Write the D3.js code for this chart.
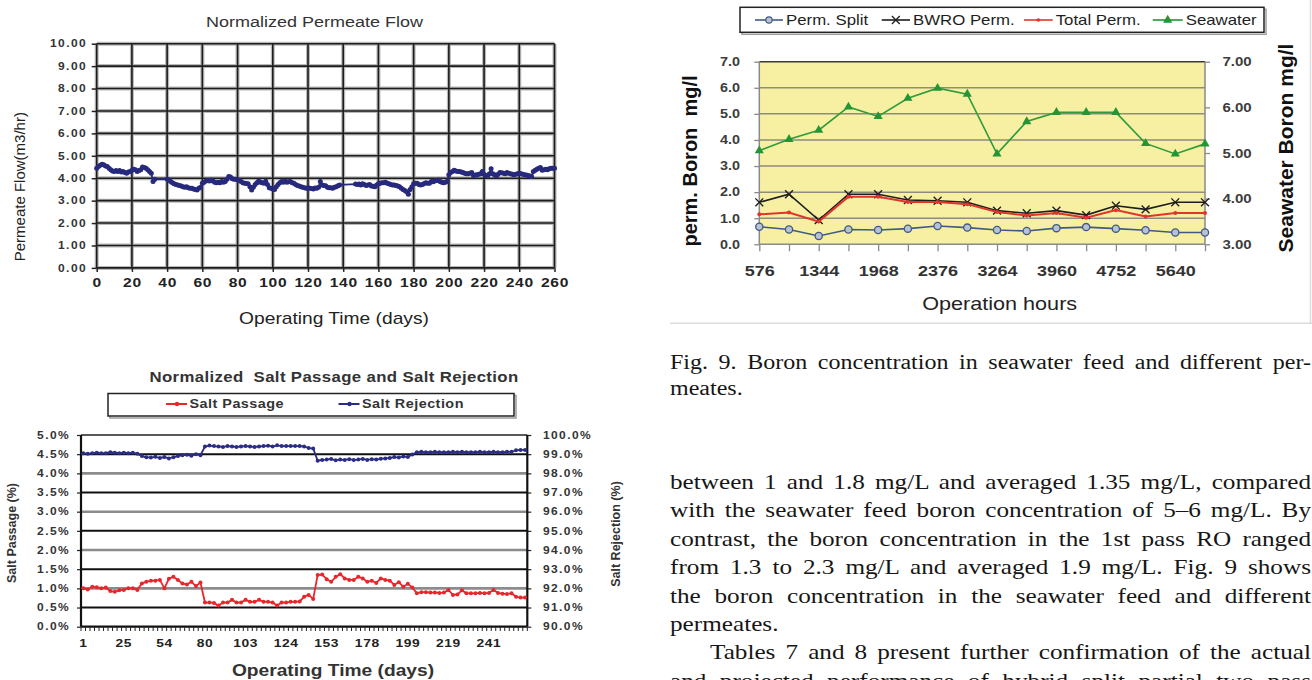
<!DOCTYPE html>
<html>
<head>
<meta charset="utf-8">
<script src="https://cdn.jsdelivr.net/npm/d3@7"></script>
<style>
  html, body { margin: 0; padding: 0; background: #fff; overflow: hidden; }
  #page { position: relative; width: 1312px; height: 680px; overflow: hidden; }
  #page svg { position: absolute; left: 0; top: 0; }
  .txt-line {
    position: absolute; white-space: nowrap; height: 28px; line-height: 28px;
    font-family: "Liberation Serif", "Times New Roman", serif; color: #161616;
    transform-origin: 0 50%;
  }
</style>
</head>
<body>
<div id="page"></div>
<script>
// ---- top-left: normalized permeate flow, [day, m3/hr]
const flowTicksX = [0, 20, 40, 60, 80, 100, 120, 140, 160, 180, 200, 220, 240, 260];
const flowTicksY = [0, 1, 2, 3, 4, 5, 6, 7, 8, 9, 10];
const permeateFlow = [
  [0,4.45],[1,4.52],[2,4.58],[3,4.62],[4,4.6],[5,4.55],[6,4.52],[7,4.45],[8,4.38],[9,4.32],
  [10,4.3],[11,4.34],[12,4.3],[13,4.34],[14,4.28],[15,4.3],[16,4.25],[17,4.22],[18,4.28],[19,4.3],
  [20,4.36],[21,4.4],[22,4.38],[23,4.3],[24,4.34],[25,4.38],[26,4.5],[27,4.48],[28,4.45],[29,4.38],
  [30,4.3],[31,4.22],[32,3.85],[33,3.95],[40,3.96],[41,3.92],[42,3.85],[43,3.8],[44,3.75],[45,3.72],
  [46,3.7],[47,3.68],[48,3.65],[49,3.62],[50,3.6],[51,3.62],[52,3.58],[53,3.55],[54,3.55],[55,3.52],
  [56,3.5],[57,3.48],[58,3.55],[59,3.6],[60,3.78],[61,3.82],[62,3.88],[63,3.9],[64,3.88],[65,3.92],
  [66,3.88],[67,3.82],[68,3.8],[69,3.82],[70,3.8],[71,3.85],[72,3.82],[73,3.85],[74,3.95],[75,4.08],
  [76,4.05],[77,3.98],[78,3.95],[79,3.95],[80,3.93],[81,3.9],[82,3.85],[83,3.8],[84,3.78],[85,3.76],
  [86,3.75],[87,3.62],[88,3.48],[89,3.6],[90,3.72],[91,3.8],[92,3.88],[93,3.82],[94,3.8],[95,3.78],
  [96,3.86],[97,3.72],[98,3.58],[99,3.55],[100,3.52],[101,3.5],[102,3.62],[103,3.72],[104,3.8],[105,3.85],
  [106,3.82],[107,3.88],[108,3.82],[109,3.84],[110,3.85],[111,3.8],[112,3.78],[113,3.72],[114,3.68],[115,3.65],
  [116,3.62],[117,3.6],[118,3.58],[119,3.55],[120,3.57],[121,3.55],[122,3.54],[123,3.52],[124,3.56],[125,3.55],
  [126,3.6],[127,3.85],[128,3.7],[129,3.68],[130,3.66],[131,3.6],[132,3.58],[133,3.57],[134,3.55],[135,3.6],
  [136,3.62],[137,3.66],[138,3.7],[147,3.74],[148,3.72],[149,3.74],[150,3.7],[151,3.75],[152,3.72],[153,3.68],
  [154,3.7],[155,3.72],[156,3.65],[157,3.64],[158,3.62],[159,3.7],[160,3.75],[161,3.78],[162,3.8],[163,3.8],
  [164,3.82],[165,3.78],[166,3.75],[167,3.72],[168,3.7],[169,3.7],[170,3.68],[171,3.65],[172,3.62],[173,3.55],
  [174,3.5],[175,3.45],[176,3.4],[177,3.28],[178,3.5],[179,3.62],[180,3.75],[181,3.78],[182,3.78],[183,3.72],
  [184,3.7],[185,3.72],[186,3.76],[187,3.8],[188,3.78],[189,3.78],[190,3.85],[191,3.84],[192,3.88],[193,3.9],
  [194,3.92],[195,3.85],[196,3.82],[197,3.8],[198,3.82],[199,3.85],[200,4.15],[201,4.25],[202,4.3],[203,4.35],
  [204,4.32],[205,4.3],[206,4.3],[207,4.28],[208,4.25],[209,4.22],[210,4.2],[211,4.2],[212,4.22],[213,4.25],
  [214,4.12],[215,4.14],[216,4.15],[217,4.18],[218,4.2],[219,4.3],[220,4.18],[221,4.12],[222,4.1],[223,4.2],
  [224,4.42],[225,4.2],[226,4.15],[227,4.1],[228,4.18],[229,4.25],[230,4.24],[231,4.22],[232,4.2],[233,4.25],
  [234,4.22],[235,4.2],[236,4.18],[237,4.15],[238,4.18],[239,4.2],[240,4.22],[241,4.2],[242,4.18],[243,4.15],
  [244,4.14],[245,4.12],[246,4.1],[247,4.08],[248,4.3],[249,4.35],[250,4.4],[251,4.45],[252,4.48],[253,4.35],
  [254,4.38],[255,4.4],[256,4.38],[257,4.42],[258,4.44],[259,4.45],[260,4.45]
];

// ---- bottom-left: salt passage / rejection (one value per logged day)
const saltTickLabels = ["1", "25", "54", "80", "103", "124", "153", "178", "199", "219", "241"];
const saltLabelEvery = 9;
const passageTicks = [0, 0.5, 1, 1.5, 2, 2.5, 3, 3.5, 4, 4.5, 5];
const rejectionTicks = [90, 91, 92, 93, 94, 95, 96, 97, 98, 99, 100];
const saltPassage = [
  1.00, 0.97, 1.04, 1.03, 1.00, 1.02, 0.93, 0.91, 0.95, 0.96,
  1.00, 1.00, 0.96, 1.13, 1.17, 1.20, 1.20, 1.22, 1.00, 1.25,
  1.30, 1.22, 1.13, 1.10, 1.17, 1.06, 1.15, 0.63, 0.63, 0.62,
  0.55, 0.63, 0.63, 0.70, 0.63, 0.63, 0.70, 0.65, 0.65, 0.70,
  0.65, 0.65, 0.63, 0.55, 0.63, 0.63, 0.65, 0.65, 0.66, 0.78,
  0.83, 0.72, 1.35, 1.36, 1.24, 1.17, 1.30, 1.37, 1.26, 1.22,
  1.22, 1.30, 1.26, 1.17, 1.20, 1.14, 1.26, 1.22, 1.20, 1.09,
  1.16, 1.04, 1.12, 1.02, 0.87, 0.90, 0.90, 0.89, 0.89, 0.88,
  0.89, 0.96, 0.83, 0.84, 0.95, 0.87, 0.87, 0.87, 0.88, 0.87,
  0.88, 0.96, 0.88, 0.86, 0.85, 0.87, 0.78, 0.76, 0.76
];
const saltRejection = [
  99.05, 99.02, 99.05, 99.08, 99.05, 99.05, 99.10, 99.08, 99.05, 99.08,
  99.05, 99.08, 99.02, 98.90, 98.84, 98.82, 98.86, 98.80, 98.85, 98.78,
  98.84, 98.90, 98.95, 98.97, 98.92, 99.00, 98.95, 99.40, 99.45, 99.42,
  99.40, 99.38, 99.42, 99.40, 99.38, 99.40, 99.42, 99.40, 99.38, 99.40,
  99.42, 99.44, 99.40, 99.46, 99.42, 99.42, 99.42, 99.42, 99.42, 99.40,
  99.32, 99.30, 98.66, 98.70, 98.72, 98.75, 98.68, 98.72, 98.70, 98.74,
  98.70, 98.72, 98.75, 98.70, 98.74, 98.72, 98.76, 98.78, 98.80, 98.85,
  98.82, 98.88, 98.85, 98.98, 99.10, 99.12, 99.10, 99.10, 99.12, 99.10,
  99.10, 99.10, 99.12, 99.10, 99.12, 99.10, 99.10, 99.10, 99.12, 99.10,
  99.10, 99.12, 99.10, 99.10, 99.12, 99.12, 99.20, 99.22, 99.22
];

// ---- top-right: boron (Fig. 9), 16 sampling points, every second labelled
const boronHourLabels = ["576", "1344", "1968", "2376", "3264", "3960", "4752", "5640"];
const boronLeftTicks = [0, 1, 2, 3, 4, 5, 6, 7];
const boronRightTicks = [3, 4, 5, 6, 7];
const permSplit = [0.67, 0.57, 0.32, 0.57, 0.55, 0.60, 0.70, 0.64, 0.55, 0.51, 0.62, 0.66, 0.60, 0.54, 0.45, 0.45];
const bwroPerm  = [1.61, 1.92, 0.93, 1.92, 1.92, 1.70, 1.67, 1.61, 1.29, 1.19, 1.29, 1.12, 1.48, 1.34, 1.61, 1.61];
const totalPerm = [1.15, 1.22, 0.87, 1.82, 1.82, 1.62, 1.62, 1.54, 1.24, 1.10, 1.20, 1.02, 1.31, 1.07, 1.20, 1.20];
const seawater  = [5.05, 5.30, 5.50, 6.01, 5.80, 6.20, 6.42, 6.29, 4.98, 5.69, 5.89, 5.89, 5.89, 5.21, 4.98, 5.20];

// ---- article text
const captionLines = [
  { t: "Fig. 9. Boron concentration in seawater feed and different per-", j: true },
  { t: "meates.", j: false }
];
const bodyLines = [
  { t: "between 1 and 1.8 mg/L and averaged 1.35 mg/L, compared", j: true, indent: 0 },
  { t: "with the seawater feed boron concentration of 5\u20136 mg/L. By", j: true, indent: 0 },
  { t: "contrast, the boron concentration in the 1st pass RO ranged", j: true, indent: 0 },
  { t: "from 1.3 to 2.3 mg/L and averaged 1.9 mg/L. Fig. 9 shows", j: true, indent: 0 },
  { t: "the boron concentration in the seawater feed and different", j: true, indent: 0 },
  { t: "permeates.", j: false, indent: 0 },
  { t: "Tables 7 and 8 present further confirmation of the actual", j: true, indent: 40 },
  { t: "and projected performance of hybrid split partial two pass", j: true, indent: 0 }
];

const SX = 1.2;   // the scanned page is stretched sideways
const page = d3.select("#page");
const svg = page.append("svg").attr("width", 1312).attr("height", 680)
  .style("font-family", "'Liberation Sans', Arial, sans-serif");

function stext(g, x, y, str, rot) {
  return g.append("text")
    .attr("transform", `translate(${x},${y}) scale(${SX},1)` + (rot ? " rotate(-90)" : ""))
    .attr("dy", "0.35em")
    .attr("text-anchor", "middle")
    .text(str);
}
function styleAxis(ax, size, weight, spacing, color) {
  ax.attr("font-family", null).attr("font-size", null);
  ax.select(".domain").remove();
  ax.selectAll("text")
    .attr("transform", `scale(${SX},1)`)
    .attr("fill", color)
    .style("font-size", size + "px")
    .style("font-weight", weight)
    .style("letter-spacing", spacing + "px");
}

// ================= chart 1 : Normalized Permeate Flow =================
{
  const g = svg.append("g");
  const x = d3.scaleLinear().domain([0, 260]).range([96.7, 554.5]);
  const y = d3.scaleLinear().domain([0, 10]).range([267.9, 43.7]);

  // soft grey halo then dark core, like the scanned grid
  [["#b8b8b8", 4], ["#1c1c1c", 1.6]].forEach(([c, w]) => {
    g.append("g").selectAll("line").data(flowTicksX).join("line")
      .attr("x1", d => x(d)).attr("x2", d => x(d))
      .attr("y1", y(10)).attr("y2", y(0))
      .attr("stroke", c).attr("stroke-width", w);
    g.append("g").selectAll("line").data(flowTicksY).join("line")
      .attr("x1", x(0)).attr("x2", x(260))
      .attr("y1", d => y(d)).attr("y2", d => y(d))
      .attr("stroke", c).attr("stroke-width", w);
  });

  const ya = g.append("g").attr("transform", `translate(${x(0)},0)`)
    .call(d3.axisLeft(y).tickValues(flowTicksY).tickFormat(d3.format(".2f")).tickSize(5).tickPadding(3));
  styleAxis(ya, 10, "bold", 1.2, "#333");
  ya.selectAll("line").attr("stroke", "#222").attr("stroke-width", 1.5);

  const xa = g.append("g").attr("transform", `translate(0,${y(0)})`)
    .call(d3.axisBottom(x).tickValues(flowTicksX).tickFormat(d3.format("d")).tickSize(4).tickPadding(6));
  styleAxis(xa, 13, "bold", 0.6, "#222");
  xa.selectAll("line").attr("stroke", "#222").attr("stroke-width", 1.5);

  const line = d3.line().x(d => x(d[0])).y(d => y(d[1]));
  g.append("path").attr("d", line(permeateFlow))
    .attr("fill", "none").attr("stroke", "#27297d").attr("stroke-width", 1.8);
  g.append("g").selectAll("circle").data(permeateFlow).join("circle")
    .attr("cx", d => x(d[0])).attr("cy", d => y(d[1])).attr("r", 2.5)
    .attr("fill", "#27297d");

  stext(g, 314.5, 21.7, "Normalized Permeate Flow")
    .style("font-size", "15px").attr("fill", "#333");
  stext(g, 334, 318.3, "Operating Time (days)")
    .style("font-size", "16px").attr("fill", "#222");
  g.append("text")
    .attr("transform", "translate(19.5,186.7) rotate(-90)")
    .attr("dy", "0.35em").attr("text-anchor", "middle")
    .style("font-size", "15px").attr("fill", "#222")
    .text("Permeate Flow(m3/hr)");
}

// ============ chart 2 : Normalized Salt Passage and Salt Rejection ============
{
  const g = svg.append("g");
  const idx = d3.range(saltPassage.length);
  const x = d3.scaleBand().domain(idx).range([81, 527.3]);
  const yL = d3.scaleLinear().domain([0, 5]).range([626.7, 435]);
  const yR = d3.scaleLinear().domain([90, 100]).range([626.7, 435]);
  const cx = i => x(i) + x.bandwidth() / 2;

  // alternating black / grey horizontal grid
  g.append("g").selectAll("line").data(passageTicks.slice(1, -1)).join("line")
    .attr("x1", 81).attr("x2", 527.3)
    .attr("y1", d => yL(d)).attr("y2", d => yL(d))
    .attr("stroke", d => Math.round(d * 2) % 2 === 1 ? "#111" : "#8c8c8c")
    .attr("stroke-width", d => Math.round(d * 2) % 2 === 1 ? 2 : 2.6);
  g.append("line").attr("x1", 81).attr("x2", 527.3).attr("y1", yL(5)).attr("y2", yL(5))
    .attr("stroke", "#222").attr("stroke-width", 1.5);

  const la = g.append("g").attr("transform", "translate(81,0)")
    .call(d3.axisLeft(yL).tickValues(passageTicks).tickFormat(d => d3.format(".1f")(d) + "%").tickSize(4).tickPadding(5));
  styleAxis(la, 10, "bold", 1.2, "#333");
  la.selectAll("line").attr("stroke", "#222").attr("stroke-width", 1.2);

  const ra = g.append("g").attr("transform", "translate(527.3,0)")
    .call(d3.axisRight(yR).tickValues(rejectionTicks).tickFormat(d => d3.format(".1f")(d) + "%").tickSize(4).tickPadding(9));
  styleAxis(ra, 10, "bold", 1.2, "#333");
  ra.selectAll("line").attr("stroke", "#222").attr("stroke-width", 1.2);

  // axis lines
  g.append("line").attr("x1", 81).attr("x2", 81).attr("y1", 435).attr("y2", 626.7)
    .attr("stroke", "#111").attr("stroke-width", 2.2);
  g.append("line").attr("x1", 527.3).attr("x2", 527.3).attr("y1", 435).attr("y2", 626.7)
    .attr("stroke", "#111").attr("stroke-width", 2.2);
  g.append("line").attr("x1", 81).attr("x2", 527.3).attr("y1", 626.7).attr("y2", 626.7)
    .attr("stroke", "#111").attr("stroke-width", 2.2);
  // dense category tick marks
  g.append("g").selectAll("line").data(d3.range(saltPassage.length + 1)).join("line")
    .attr("x1", i => 81 + i * x.step()).attr("x2", i => 81 + i * x.step())
    .attr("y1", 626.7).attr("y2", 631)
    .attr("stroke", "#222").attr("stroke-width", 1);

  g.append("g").selectAll("text").data(saltTickLabels).join("text")
    .attr("transform", (d, i) => `translate(${cx(i * saltLabelEvery)},642.7) scale(${SX},1)`)
    .attr("dy", "0.35em").attr("text-anchor", "middle")
    .style("font-size", "11.5px").style("font-weight", "bold").style("letter-spacing", "0.5px")
    .attr("fill", "#222").text(d => d);

  const series = [
    { vals: saltRejection, y: yR, color: "#2b2d85" },
    { vals: saltPassage, y: yL, color: "#e8262b" }
  ];
  series.forEach(s => {
    g.append("path")
      .attr("d", d3.line().x((d, i) => cx(i)).y(d => s.y(d))(s.vals))
      .attr("fill", "none").attr("stroke", s.color).attr("stroke-width", 1.8);
    g.append("g").selectAll("circle").data(s.vals).join("circle")
      .attr("cx", (d, i) => cx(i)).attr("cy", d => s.y(d)).attr("r", 2)
      .attr("fill", s.color);
  });

  stext(g, 334, 376.7, "Normalized  Salt Passage and Salt Rejection")
    .style("font-size", "14px").style("font-weight", "bold").style("white-space", "pre")
    .style("letter-spacing", "0.3px").attr("fill", "#333");

  // legend box
  g.append("rect").attr("x", 110).attr("y", 395.5).attr("width", 406).attr("height", 22.5)
    .attr("fill", "none").attr("stroke", "#9a9a9a").attr("stroke-width", 1.5);
  g.append("rect").attr("x", 108).attr("y", 393.5).attr("width", 406).attr("height", 22.5)
    .attr("fill", "#fff").attr("stroke", "#222").attr("stroke-width", 1.5);
  [
    { name: "Salt Passage", x0: 166, color: "#e8262b" },
    { name: "Salt Rejection", x0: 338.5, color: "#2b2d85" }
  ].forEach(e => {
    g.append("line").attr("x1", e.x0).attr("x2", e.x0 + 21).attr("y1", 404).attr("y2", 404)
      .attr("stroke", e.color).attr("stroke-width", 2);
    g.append("circle").attr("cx", e.x0 + 11).attr("cy", 404).attr("r", 2.2).attr("fill", e.color);
    g.append("text")
      .attr("transform", `translate(${e.x0 + 23.5},404) scale(${SX},1)`)
      .attr("dy", "0.35em")
      .style("font-size", "12px").style("font-weight", "bold").style("letter-spacing", "0.4px")
      .attr("fill", "#333").text(e.name);
  });

  stext(g, 333, 670, "Operating Time (days)")
    .style("font-size", "16px").style("font-weight", "bold").attr("fill", "#333");
  g.append("text").attr("transform", "translate(12,533) rotate(-90)")
    .attr("dy", "0.35em").attr("text-anchor", "middle")
    .style("font-size", "12.5px").style("font-weight", "bold").attr("fill", "#333")
    .text("Salt Passage (%)");
  g.append("text").attr("transform", "translate(616,534) rotate(-90)")
    .attr("dy", "0.35em").attr("text-anchor", "middle")
    .style("font-size", "12.5px").style("font-weight", "bold").attr("fill", "#333")
    .text("Salt Rejection (%)");
}

// ================= chart 3 : boron concentration =================
{
  const g = svg.append("g");
  const idx = d3.range(seawater.length);
  const x = d3.scalePoint().domain(idx).range([759.3, 1205]);
  const yL = d3.scaleLinear().domain([0, 7]).range([244.3, 61.7]);
  const yR = d3.scaleLinear().domain([3, 7]).range([244.3, 61.7]);

  // frame of the figure panel
  g.append("line").attr("x1", 670).attr("x2", 1312).attr("y1", 323.3).attr("y2", 323.3)
    .attr("stroke", "#dcdcdc").attr("stroke-width", 1.5);
  g.append("line").attr("x1", 1310.5).attr("x2", 1310.5).attr("y1", 0).attr("y2", 323.3)
    .attr("stroke", "#dcdcdc").attr("stroke-width", 1.5);

  g.append("rect").attr("x", 759.3).attr("y", yL(7)).attr("width", 1205 - 759.3).attr("height", yL(0) - yL(7))
    .attr("fill", "#f7f0a3");
  g.append("g").selectAll("line").data(boronLeftTicks.slice(1, -1)).join("line")
    .attr("x1", 759.3).attr("x2", 1205).attr("y1", d => yL(d)).attr("y2", d => yL(d))
    .attr("stroke", "#8e8d7c").attr("stroke-width", 1.5);
  g.append("line").attr("x1", 759.3).attr("x2", 1205).attr("y1", yL(7)).attr("y2", yL(7))
    .attr("stroke", "#3a3a3a").attr("stroke-width", 1.5);

  const la = g.append("g").attr("transform", "translate(759.3,0)")
    .call(d3.axisLeft(yL).tickValues(boronLeftTicks).tickFormat(d3.format(".1f")).tickSize(5).tickPadding(11));
  styleAxis(la, 12, "bold", 0, "#3c3c3c");
  la.selectAll("line").attr("stroke", "#8a8a8a").attr("stroke-width", 1.3);

  const ra = g.append("g").attr("transform", "translate(1205,0)")
    .call(d3.axisRight(yR).tickValues(boronRightTicks).tickFormat(d3.format(".2f")).tickSize(5).tickPadding(9.5));
  styleAxis(ra, 12.5, "bold", 0, "#3c3c3c");
  ra.selectAll("line").attr("stroke", "#8a8a8a").attr("stroke-width", 1.3);

  g.append("line").attr("x1", 759.3).attr("x2", 759.3).attr("y1", yL(7)).attr("y2", yL(0))
    .attr("stroke", "#8a8a8a").attr("stroke-width", 1.5);
  g.append("line").attr("x1", 1205).attr("x2", 1205).attr("y1", yL(7)).attr("y2", yL(0))
    .attr("stroke", "#8a8a8a").attr("stroke-width", 1.5);

  const xa = g.append("g").attr("transform", `translate(0,${yL(0)})`)
    .call(d3.axisBottom(x).tickFormat(i => i % 2 === 0 ? boronHourLabels[i / 2] : "").tickSize(7).tickPadding(14));
  styleAxis(xa, 15, "bold", 0, "#333");
  xa.selectAll("line").attr("stroke", "#8a8a8a").attr("stroke-width", 1.3);
  g.append("line").attr("x1", 759.3).attr("x2", 1205).attr("y1", yL(0)).attr("y2", yL(0))
    .attr("stroke", "#8a8a8a").attr("stroke-width", 1.5);

  const lineOf = (vals, y) => d3.line().x((d, i) => x(i)).y(d => y(d))(vals);
  const tri = d3.symbol(d3.symbolTriangle, 36);
  const cross = d3.symbol(d3.symbolTimes, 42);

  // seawater (secondary axis)
  g.append("path").attr("d", lineOf(seawater, yR)).attr("fill", "none")
    .attr("stroke", "#2f9b3c").attr("stroke-width", 1.6);
  g.append("g").selectAll("path").data(seawater).join("path")
    .attr("transform", (d, i) => `translate(${x(i)},${yR(d)})`).attr("d", tri())
    .attr("fill", "#239534");
  // perm split
  g.append("path").attr("d", lineOf(permSplit, yL)).attr("fill", "none")
    .attr("stroke", "#3f5a86").attr("stroke-width", 1.6);
  g.append("g").selectAll("circle").data(permSplit).join("circle")
    .attr("cx", (d, i) => x(i)).attr("cy", d => yL(d)).attr("r", 3.6)
    .attr("fill", "#b9c2cf").attr("stroke", "#3f5a86").attr("stroke-width", 1.3);
  // BWRO perm
  g.append("path").attr("d", lineOf(bwroPerm, yL)).attr("fill", "none")
    .attr("stroke", "#1e1e1e").attr("stroke-width", 1.6);
  g.append("g").selectAll("path").data(bwroPerm).join("path")
    .attr("transform", (d, i) => `translate(${x(i)},${yL(d)})`).attr("d", cross())
    .attr("fill", "none").attr("stroke", "#1e1e1e").attr("stroke-width", 1.4);
  // total perm
  g.append("path").attr("d", lineOf(totalPerm, yL)).attr("fill", "none")
    .attr("stroke", "#e2342b").attr("stroke-width", 2);
  g.append("g").selectAll("circle").data(totalPerm).join("circle")
    .attr("cx", (d, i) => x(i)).attr("cy", d => yL(d)).attr("r", 2)
    .attr("fill", "#e2342b");

  // legend
  g.append("rect").attr("x", 742).attr("y", 9.3).attr("width", 524).attr("height", 25)
    .attr("fill", "none").attr("stroke", "#a0a0a0").attr("stroke-width", 1.5);
  g.append("rect").attr("x", 740).attr("y", 7.3).attr("width", 524).attr("height", 25)
    .attr("fill", "#fff").attr("stroke", "#222").attr("stroke-width", 1.5);
  const items = [
    { name: "Perm. Split", x0: 755, x1: 783, color: "#3f5a86", mark: "circle" },
    { name: "BWRO Perm.", x0: 881.7, x1: 910, color: "#1e1e1e", mark: "cross" },
    { name: "Total Perm.", x0: 1024, x1: 1052.7, color: "#e2342b", mark: "dot" },
    { name: "Seawater", x0: 1152.7, x1: 1182.7, color: "#239534", mark: "tri" }
  ];
  items.forEach(e => {
    const mx = (e.x0 + e.x1) / 2, my = 20;
    g.append("line").attr("x1", e.x0).attr("x2", e.x1).attr("y1", my).attr("y2", my)
      .attr("stroke", e.color).attr("stroke-width", 1.6);
    if (e.mark === "circle") {
      g.append("circle").attr("cx", mx).attr("cy", my).attr("r", 3.2)
        .attr("fill", "#b9c2cf").attr("stroke", e.color).attr("stroke-width", 1.2);
    } else if (e.mark === "cross") {
      g.append("path").attr("transform", `translate(${mx},${my})`).attr("d", cross())
        .attr("fill", "none").attr("stroke", e.color).attr("stroke-width", 1.3);
    } else if (e.mark === "tri") {
      g.append("path").attr("transform", `translate(${mx},${my})`).attr("d", tri())
        .attr("fill", e.color);
    } else {
      g.append("circle").attr("cx", mx).attr("cy", my).attr("r", 1.8).attr("fill", e.color);
    }
    g.append("text").attr("transform", `translate(${e.x1 + 3},${my}) scale(${SX},1)`)
      .attr("dy", "0.35em").style("font-size", "14px").attr("fill", "#1e1e1e").text(e.name);
  });

  stext(g, 999.7, 303.3, "Operation hours").style("font-size", "18px").attr("fill", "#222");
  g.append("text").attr("transform", "translate(690,161) rotate(-90)")
    .attr("dy", "0.35em").attr("text-anchor", "middle")
    .style("font-size", "20px").style("font-weight", "bold").style("white-space", "pre")
    .attr("fill", "#111").text("perm. Boron  mg/l");
  g.append("text").attr("transform", "translate(1286,148) rotate(-90)")
    .attr("dy", "0.35em").attr("text-anchor", "middle")
    .style("font-size", "21px").style("font-weight", "bold")
    .attr("fill", "#111").text("Seawater Boron mg/l");
}

// ================= article text (HTML, justified line by line) =================
function writeLines(lines, top0, step, size) {
  page.selectAll(null).data(lines).join("div")
    .attr("class", "txt-line")
    .style("left", d => (670 + (d.indent || 0)) + "px")
    .style("top", (d, i) => (top0 + i * step - 14) + "px")
    .style("width", d => ((641 - (d.indent || 0)) / SX) + "px")
    .style("font-size", size + "px")
    .style("text-align", d => d.j ? "justify" : "left")
    .style("text-align-last", d => d.j ? "justify" : "left")
    .style("transform", `scaleX(${SX})`)
    .text(d => d.t);
}
writeLines(captionLines, 361.7, 26.6, 20);
writeLines(bodyLines, 482, 28.4, 21);
</script>
</body>
</html>
